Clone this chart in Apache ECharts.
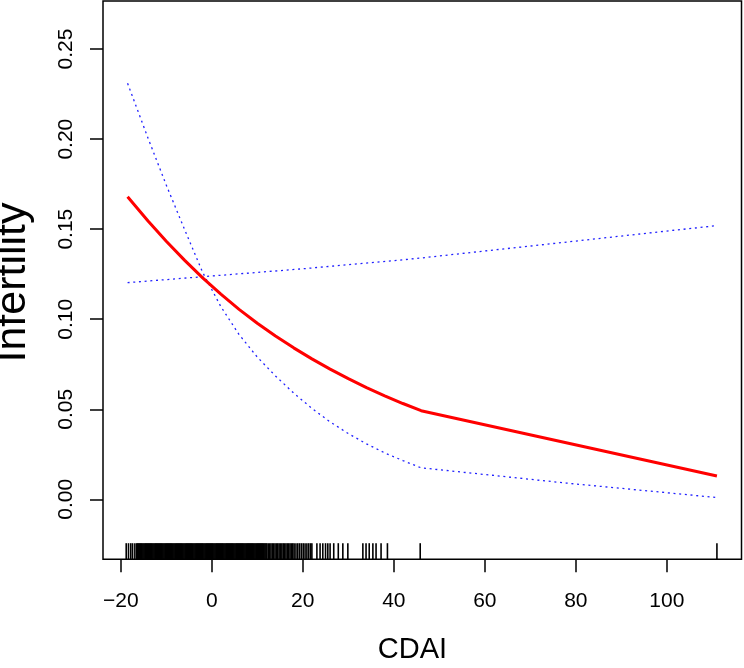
<!DOCTYPE html>
<html>
<head>
<meta charset="utf-8">
<script src="https://cdn.jsdelivr.net/npm/echarts@6/dist/echarts.min.js"></script>
<style>html,body{margin:0;padding:0;background:#fff}#c{width:744px;height:668px}</style>
</head>
<body>
<div id="c"></div>
<script>
// ---- data ----
var xTicks = [-20, 0, 20, 40, 60, 80, 100];
var yTicks = [0, 0.05, 0.10, 0.15, 0.20, 0.25];

var fitX = [-18.5, -14, -10, -6, -2, 2, 6, 10, 14, 18, 22, 26, 30, 34, 38, 42, 46, 111];
var fitY = [0.168, 0.1545, 0.1433, 0.1328, 0.1230, 0.1139, 0.1055, 0.0978, 0.0907, 0.0841, 0.0780, 0.0723, 0.0670, 0.0620, 0.0575, 0.0532, 0.0492, 0.013];

var lowX = [-18.5, -14, -10, -6, -2, 2, 6, 10, 14, 18, 22, 26, 30, 34, 38, 42, 46, 78, 111];
var lowY = [0.231, 0.2005, 0.1745, 0.1500, 0.1260, 0.1070, 0.0915, 0.0790, 0.0685, 0.0590, 0.0505, 0.0430, 0.0365, 0.0308, 0.0258, 0.0215, 0.0175, 0.009, 0.001];

var upX = [-18.5, 0, 20, 42, 46, 111];
var upY = [0.1203, 0.124, 0.128, 0.133, 0.134, 0.152];

var rugX = [-18.8, -18.3, -17.8, -17.4, -16.9, -16.5, -16.3, -16.1, -15.9, -15.7, -15.5, -15.3, -15.1, -14.9, -14.7,
  -14.5, -14.3, -14.1, -13.9, -13.7, -13.5, -13.3, -13.1, -12.9, -12.7, -12.5, -12.3, -12.1, -11.9, -11.7,
  -11.5, -11.3, -11.1, -10.9, -10.7, -10.5, -10.3, -10.1, -9.9, -9.7, -9.5, -9.3, -9.1, -8.9, -8.7,
  -8.5, -8.3, -8.1, -7.9, -7.7, -7.5, -7.3, -7.1, -6.9, -6.7, -6.5, -6.3, -6.1, -5.9, -5.7,
  -5.5, -5.3, -5.1, -4.9, -4.7, -4.5, -4.3, -4.1, -3.9, -3.7, -3.5, -3.3, -3.1, -2.9, -2.7,
  -2.5, -2.3, -2.1, -1.9, -1.7, -1.5, -1.3, -1.1, -0.9, -0.7, -0.5, -0.3, -0.1, 0.1, 0.3,
  0.5, 0.7, 0.9, 1.1, 1.3, 1.5, 1.7, 1.9, 2.1, 2.3, 2.5, 2.7, 2.9, 3.1, 3.3,
  3.5, 3.7, 3.9, 4.1, 4.3, 4.5, 4.7, 4.9, 5.1, 5.3, 5.5, 5.7, 5.9, 6.1, 6.3,
  6.5, 6.7, 6.9, 7.1, 7.3, 7.5, 7.7, 7.9, 8.1, 8.3, 8.5, 8.7, 8.9, 9.1,
  9.3, 9.5, 9.7, 9.9, 10.1, 10.3, 10.5, 10.7, 10.9, 11.1, 11.3, 11.5, 11.7, 11.9, 12.1,
  12.4, 12.7, 13.0, 13.3, 13.6, 13.9, 14.2, 14.5, 14.8, 15.1, 15.4, 15.7, 16.0, 16.3, 16.6,
  16.9, 17.2, 17.5, 17.8, 18.1, 18.5, 18.9, 19.3, 19.7, 20.1, 20.5, 20.9, 21.3, 21.7, 22.0,
  23.1, 23.8, 24.4, 25.0, 25.5, 26.0, 26.8, 27.8, 28.8,
  29.9, 33.2, 33.9, 34.6, 35.4, 36.1, 37.2, 38.6, 45.8, 111.0];

// ---- build chart ----
function pairs(xs, ys) { return xs.map(function (x, i) { return [x, ys[i]]; }); }
var X_MIN = -23.9, X_MAX = 116.4, Y_MIN = -0.0333, Y_MAX = 0.2767;
var RUG_Y = -0.0288; // centre of the rug strip
var FONT = 'Liberation Sans, Arial, Helvetica, sans-serif';

var chart = echarts.init(document.getElementById('c'), null, { renderer: 'canvas' });
chart.setOption({
  animation: false,
  backgroundColor: '#fff',
  grid: { left: 103, right: 2.5, top: 1, bottom: 108.7, show: true, borderColor: '#000', borderWidth: 1.5, backgroundColor: 'transparent' },
  xAxis: {
    type: 'value', min: X_MIN, max: X_MAX,
    axisLine: { show: false, onZero: false },
    splitLine: { show: false },
    axisTick: { show: true, inside: false, length: 13, customValues: xTicks, lineStyle: { color: '#000', width: 1.5 } },
    axisLabel: { customValues: xTicks, margin: 31, fontSize: 21, color: '#000', fontFamily: FONT,
      formatter: function (v) { return String(v).replace('-', '\u2212'); } }
  },
  yAxis: {
    type: 'value', min: Y_MIN, max: Y_MAX,
    axisLine: { show: false, onZero: false },
    splitLine: { show: false },
    axisTick: { show: true, inside: false, length: 13, customValues: yTicks, lineStyle: { color: '#000', width: 1.5 } },
    axisLabel: { customValues: yTicks, rotate: 90, margin: 26, fontSize: 21, color: '#000', fontFamily: FONT,
      formatter: function (v) { return v.toFixed(2); } }
  },
  graphic: [
    { type: 'text', x: 412.5, y: 650, style: { text: 'CDAI', fontSize: 29, fontFamily: FONT, fill: '#000', textAlign: 'center', textVerticalAlign: 'middle' } },
    { type: 'text', x: 13, y: 282.5, rotation: Math.PI / 2, style: { text: 'Infertility', fontSize: 43, fontFamily: FONT, fill: '#000', textAlign: 'center', textVerticalAlign: 'middle' } }
  ],
  series: [
    {
      type: 'scatter', name: 'rug', data: rugX.map(function (x) { return [x, RUG_Y]; }),
      symbol: 'rect', symbolSize: [1.6, 16], large: false, silent: true,
      itemStyle: { color: '#000', opacity: 1 },
      z: 1
    },
    { type: 'line', data: pairs(upX, upY), showSymbol: false, lineStyle: { color: '#2020ff', width: 1.3, type: [2, 3.7] }, z: 2 },
    { type: 'line', data: pairs(lowX, lowY), showSymbol: false, lineStyle: { color: '#2020ff', width: 1.3, type: [2, 3.7] }, z: 2 },
    { type: 'line', data: pairs(fitX, fitY), showSymbol: false, lineStyle: { color: '#ff0000', width: 3 }, z: 3 }
  ]
});
</script>
</body>
</html>
